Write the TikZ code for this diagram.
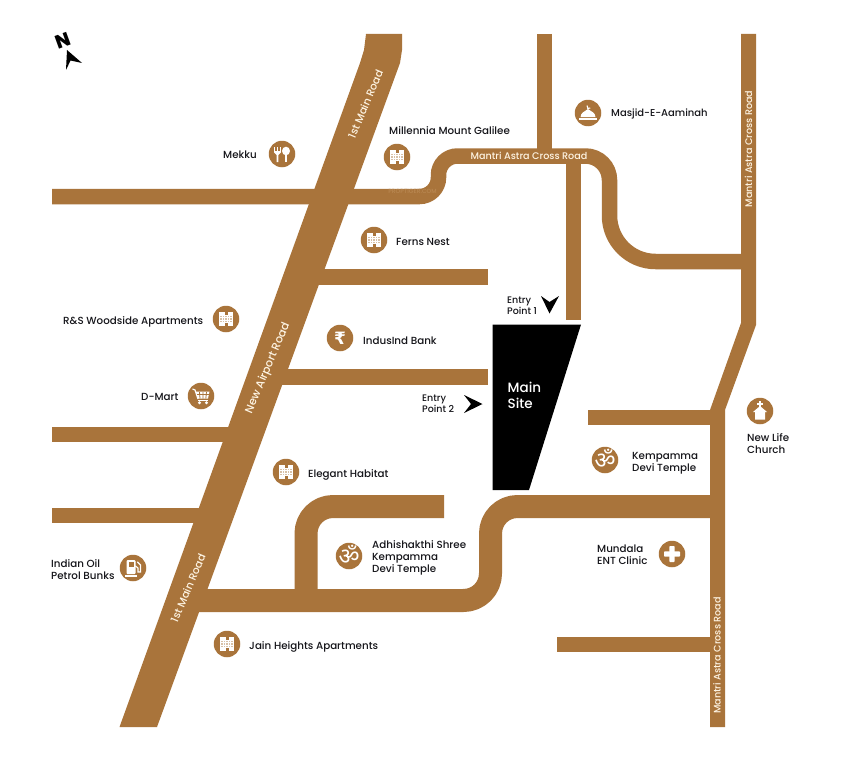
\documentclass[tikz,border=0pt]{standalone}
\usepackage{fontspec}
\setmainfont{Poppins Medium}[BoldFont={Poppins ExtraBold}]
\newfontfamily\rupeefont{DejaVu Sans}
\newfontfamily\devafont[Script=Devanagari]{Noto Sans}
\definecolor{roadc}{HTML}{A9743B}
\definecolor{creamc}{HTML}{FDF3E2}
\definecolor{inkc}{HTML}{15151A}
\definecolor{markc}{HTML}{B98852}
\tikzset{
  road/.style={draw=roadc,line width=15.5pt,line join=miter},
  wideroad/.style={draw=roadc,line width=23pt,line join=round},
  badge/.style={circle,fill=roadc,minimum size=26.5pt,inner sep=0pt},
  lab/.style={anchor=west,text=inkc,font=\fontsize{10.3}{12}\selectfont,align=left,inner sep=0pt},
  roadlab/.style={text=creamc,font=\fontsize{9.6}{12}\selectfont,inner sep=0pt},
  ico/.style={fill=white,draw=none}
}
\newcommand{\bldgicon}[1]{\begin{scope}[shift={(#1)}]
  \fill[white] (-7,-7) rectangle (7,7);
  \fill[roadc] (-1.5,-7.1) rectangle (1.5,-4.5);
  \foreach \xx in {-5,-2.5,0,2.5,5} \foreach \yy in {-2.5,0,2.5}
    {\fill[roadc!45] (\xx-.6,\yy-.6) rectangle (\xx+.6,\yy+.6);}
  \fill[roadc] (-1.5,7.1) rectangle (1.5,4.2);
\end{scope}}
\begin{document}
\begin{tikzpicture}[x=1pt,y=-1pt]
\useasboundingbox (0,0) rectangle (843,768);
\fill[white] (0,0) rectangle (843,768);
% horizontal and curved roads
\draw[road] (52,196.5) [rounded corners=19pt] -- (438.5,196.5) [rounded corners=19pt] -- (438.5,156) [rounded corners=24pt] -- (609.5,156) [rounded corners=46pt] -- (609.5,261.5) [sharp corners] -- (745,261.5);
\draw[road] (544.5,34) -- (544.5,150);
\draw[road] (573.5,160) -- (573.5,320);
\draw[road] (300,277) -- (488,277);
\draw[road] (280,377) -- (488,377);
\draw[road] (52,434.5) -- (240,434.5);
\draw[road] (52,515.5) -- (210,515.5);
\draw[road] (588,417.5) -- (715,417.5);
\draw[road] (557,644.5) -- (715,644.5);
\draw[wideroad] (195,600.5) [rounded corners=27pt] -- (490.5,600.5) -- (490.5,506.5) [sharp corners] -- (715,506.5);
\draw[wideroad] (306,600) [rounded corners=27pt] -- (306,506.5) [sharp corners] -- (444,506.5);
% polygonal roads
\fill[roadc] (366,34) -- (402,34) -- (402,50) -- (400,63) -- (157,727) -- (119.5,727) -- (360,63) -- (364,50) -- cycle;
\fill[roadc] (741,34) -- (756,34) -- (756,325) -- (725,410) -- (725,727) -- (710,727) -- (710,410) -- (741,323) -- cycle;
% site
\fill[black] (492.5,324.5) -- (581,324.5) -- (529,490) -- (492.5,490) -- cycle;
\node[anchor=west,text=white,font=\fontsize{13.5}{16.5}\selectfont,align=left,inner sep=0pt] (site) at (507.5,395.5) {Main\\Site};
% road names
\node[roadlab] (r1) at (529,156) {Mantri Astra Cross Road};
\node[roadlab,rotate=90] (r2) at (748.5,149) {Mantri Astra Cross Road};
\node[roadlab,rotate=90] (r3) at (717,655.5) {Mantri Astra Cross Road};
\node[roadlab,rotate=67,font=\fontsize{10.6}{12}\selectfont] (r4) at (365.5,104) {1st Main Road};
\node[roadlab,rotate=67,font=\fontsize{11.2}{12}\selectfont] (r5) at (268,368) {New Airport Road};
\node[roadlab,rotate=67,font=\fontsize{10.6}{12}\selectfont] (r6) at (188,588) {1st Main Road};
\node[text=markc,font=\fontsize{6}{7}\selectfont,inner sep=0pt] (wm) at (412.5,191.5) {PROPTIGER.COM};
% entry points
\node[lab,font=\fontsize{9.5}{11}\selectfont] (e1) at (507,305.5) {Entry\\Point 1};
\node[lab,font=\fontsize{9.5}{11}\selectfont] (e2) at (422,404) {Entry\\Point 2};
\fill[black] (549.5,313.5) -- (541,296) -- (549.5,302) -- (559,296) -- cycle;
\fill[black] (482.5,404) -- (464,395) -- (471,404) -- (464,413) -- cycle;
% north
\node[font=\fontsize{19}{19}\selectfont\bfseries,rotate=20,text=black,inner sep=0pt] (north) at (63.5,41) {N};
\fill[black] (67,50) -- (82,63) -- (70.5,60.5) -- (66,70) -- cycle;
% badges
\node[badge] (mekku) at (282,154) {};
\node[badge] (mill) at (397,157) {};
\node[badge] (ferns) at (374,240) {};
\node[badge] (masjid) at (588,113) {};
\node[badge] (rs) at (226,319) {};
\node[badge] (bank) at (340,338) {};
\node[badge] (dmart) at (201,396) {};
\node[badge] (eleg) at (286,472) {};
\node[badge] (kemp) at (605,460) {};
\node[badge] (church) at (760,411) {};
\node[badge] (ent) at (672,554) {};
\node[badge] (adhi) at (349,556) {};
\node[badge] (oil) at (133,568) {};
\node[badge] (jain) at (227,644) {};
% building icons
\bldgicon{397,157}
\bldgicon{374,240}
\bldgicon{226,319}
\bldgicon{286,472}
\bldgicon{227,644}
% fork and spoon
\begin{scope}[shift={(282,154)}]
  \draw[white,line width=1.2pt] (-7.5,-7) -- (-7.5,-2) (-4.5,-7) -- (-4.5,-2) (-1.5,-7) -- (-1.5,-2);
  \fill[white] (-7.9,-3) -- (-1.1,-3) -- (-1.1,-1.5) -- (-3.6,1) -- (-3.6,8) -- (-5.4,8) -- (-5.4,1) -- (-7.9,-1.5) -- cycle;
  \fill[white] (4,-3) ellipse [x radius=4,y radius=4.3];
  \fill[white] (3.1,0) rectangle (4.9,8);
\end{scope}
% mosque
\begin{scope}[shift={(588,113)}]
  \fill[white] (-9,7) rectangle (9,4.7);
  \fill[white] (-7.5,4.2) .. controls (-7.5,-0.5) and (-3,-1.5) .. (0,-4) .. controls (3,-1.5) and (7.5,-0.5) .. (7.5,4.2) -- cycle;
  \draw[white,line width=1.1pt] (0,-4) -- (-1,-7.5);
  \draw[white,line width=1.1pt] (-0.6,-4.5) -- (2.2,-5);
\end{scope}
% rupee
\node[text=white,font=\rupeefont\bfseries\fontsize{17}{17}\selectfont,inner sep=0pt] (rs1) at (340,338) {₹};
% cart
\begin{scope}[shift={(201,396)}]
  \draw[white,line width=1.2pt,line join=round] (-8.5,-7) -- (-6,-6) -- (-3,3);
  \fill[white] (-5.5,-4.5) -- (8.5,-4.5) -- (7,2.5) -- (-3,2.5) -- cycle;
  \draw[roadc,line width=.8pt] (-1.5,-4) -- (-1,2.5) (2,-4) -- (2,2.5) (5.5,-4) -- (4.8,2.5) (-4,-1.5) -- (8,-1.5);
  \fill[white] (-3,3.8) rectangle (7,4.9);
  \fill[white] (-1.5,6.8) circle [radius=1.6] (5.5,6.8) circle [radius=1.6];
\end{scope}
% om
\node[text=white,font=\devafont\bfseries\fontsize{23}{23}\selectfont,inner sep=0pt] (om1) at (605,459) {ॐ};
\node[text=white,font=\devafont\bfseries\fontsize{23}{23}\selectfont,inner sep=0pt] (om2) at (349,555) {ॐ};
% church
\begin{scope}[shift={(760,411)}]
  \fill[white] (-1,-10) rectangle (1,-3);
  \fill[white] (-3,-8) rectangle (3,-6.3);
  \fill[white] (0,-5) -- (7,1) -- (5,1) -- (5,8.5) -- (-5,8.5) -- (-5,1) -- (-7,1) -- cycle;
\end{scope}
% medical cross
\begin{scope}[shift={(672,554)}]
  \fill[white,rounded corners=.8pt] (-2.7,-8) rectangle (2.7,8);
  \fill[white,rounded corners=.8pt] (-8,-2.7) rectangle (8,2.7);
\end{scope}
% fuel
\begin{scope}[shift={(133,568)}]
  \fill[white,rounded corners=1pt] (-6.5,-8) rectangle (2.5,6);
  \fill[roadc] (-4.5,-6) rectangle (.5,-1.5);
  \fill[white] (-8,7) rectangle (4,8.8);
  \draw[white,line width=1.1pt,line cap=round] (2.5,-2) -- (5,0) -- (5,4) -- (7.5,4) -- (7.5,-3) -- (4.5,-6);
\end{scope}
% labels
\node[lab] (t1) at (223,154.5) {Mekku};
\node[lab] (t2) at (389,130.5) {Millennia Mount Galilee};
\node[lab] (t3) at (396,242) {Ferns Nest};
\node[lab,font=\fontsize{10}{12}\selectfont] (t4) at (611,114) {Masjid-E-Aaminah};
\node[lab] (t5) at (63,321.5) {R\&S Woodside Apartments};
\node[lab] (t6) at (363,341) {IndusInd Bank};
\node[lab] (t7) at (141,397) {D-Mart};
\node[lab] (t8) at (308,475) {Elegant Habitat};
\node[lab] (t9) at (632,463) {Kempamma\\Devi Temple};
\node[lab] (t10) at (747,444) {New Life\\Church};
\node[lab] (t11) at (597,554.5) {Mundala\\ENT Clinic};
\node[lab] (t12) at (372,558) {Adhishakthi Shree\\Kempamma\\Devi Temple};
\node[lab] (t13) at (51,570) {Indian Oil\\Petrol Bunks};
\node[lab] (t14) at (249,646.5) {Jain Heights Apartments};
\end{tikzpicture}
\end{document}
